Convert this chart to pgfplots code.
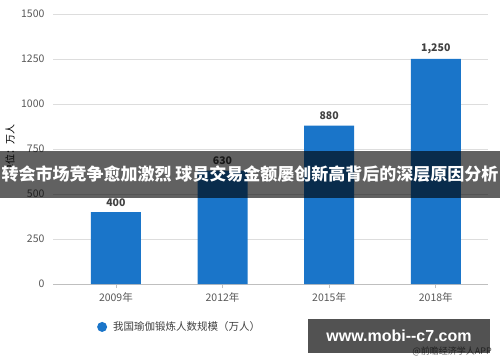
\documentclass[border=0pt]{standalone}
\usepackage{fontspec}
\setmainfont{Noto Sans CJK SC}
\newfontfamily\latinfont{Liberation Sans}
\usepackage{pgfplots}
\pgfplotsset{compat=1.18}
\definecolor{barblue}{HTML}{1A75C9}
\definecolor{ticktext}{HTML}{595959}
\definecolor{gridc}{HTML}{DDDDDD}
\definecolor{axisc}{HTML}{BFBFBF}
\begin{document}
\begin{tikzpicture}[x=1pt,y=1pt]
\useasboundingbox (0,0) rectangle (500,362);
\fill[white] (0,0) rectangle (500,362);
\begin{axis}[
  at={(53pt,78pt)}, anchor=south west, scale only axis,
  width=435pt, height=270pt,
  ymin=0, ymax=1500, xmin=-0.59, xmax=3.49,
  ytick={0,250,...,1500},
  xtick={0,1,2,3},
  xticklabels={2009年,2012年,2015年,2018年},
  axis x line*=bottom, axis y line*=left,
  y axis line style={draw=none},
  x axis line style={draw=axisc, line width=0.8pt, -},
  ytick style={draw=none},
  xtick style={draw=axisc, line width=0.8pt},
  major tick length=4pt, tick align=outside,
  ymajorgrids, grid style={draw=gridc, line width=0.6pt},
  /pgf/number format/assume math mode=true,
  /pgf/number format/1000 sep={},
  ticklabel style={font=\fontsize{10.5}{12}\selectfont, text=ticktext},
  yticklabel style={xshift=-1pt},
  xticklabel style={yshift=-1pt},
  ylabel={单位：万人},
  ylabel style={font=\fontsize{10.5}{12}\selectfont, text=ticktext},
  every axis y label/.style={at={(axis description cs:-0.099,0.5)}, rotate=90, anchor=center},
  ybar, bar width=50pt,
  nodes near coords,
  point meta=explicit symbolic,
  nodes near coords style={font=\fontsize{10.5}{12}\selectfont\bfseries, text=black!75, yshift=2pt},
  legend style={at={(axis description cs:0.101,-0.159)}, anchor=west, draw=none, fill=none,
    font=\fontsize{10.5}{12}\selectfont, text=black!75, inner sep=0pt},
  legend image code/.code={\fill[barblue] (3pt,0pt) circle (5pt);},
]
\addplot[fill=barblue, draw=none] coordinates {(0,400) [400] (1,630) [630] (2,880) [880] (3,1250) [{1,250}]};
\addlegendentry{\hspace{4pt}我国瑜伽锻炼人数规模（万人）}
\end{axis}
% source text
\node[anchor=east, text=black!60, font=\fontsize{9}{10}\selectfont, inner sep=0pt] at (492,11) {@前瞻经济学人APP};
% overlay banner
\fill[black, opacity=0.62] (0,164) rectangle (500,211);
\node[text=white, font=\fontsize{17}{19}\selectfont\bfseries, inner sep=0pt] at (250,187.5) {转会市场竞争愈加激烈 球员交易金额屡创新高背后的深层原因分析};
% watermark box
\fill[black, opacity=0.68] (308,9) rectangle (490,43);
\node[text=white, font=\latinfont\fontsize{16}{18}\selectfont\bfseries, inner sep=0pt] at (399,26) {www.mobi-{}-c7.com};
\end{tikzpicture}
\end{document}
